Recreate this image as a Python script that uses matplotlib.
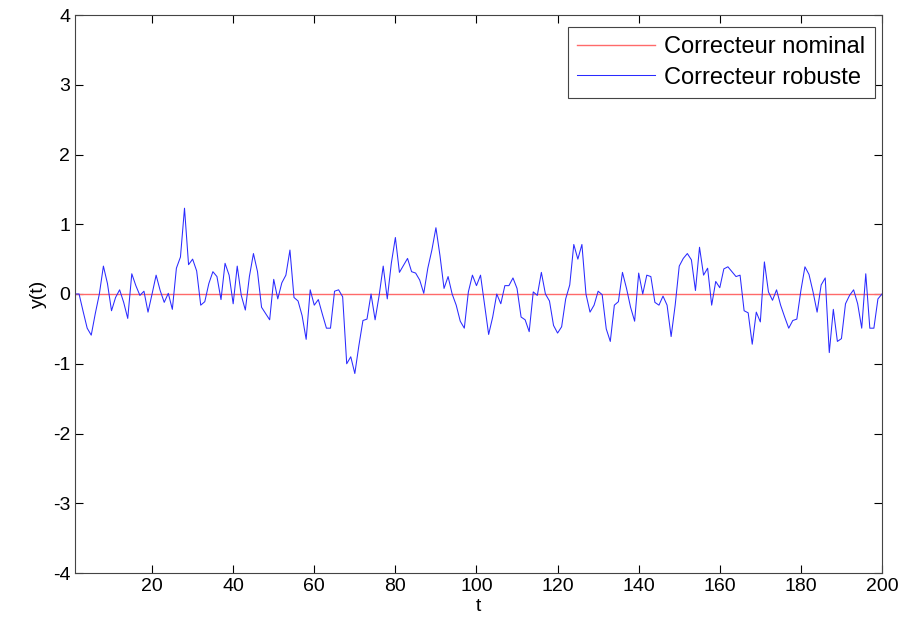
import numpy as np
import matplotlib
matplotlib.use('Agg')
import matplotlib.pyplot as plt

# values, t = 1..200
y_robuste = [
    0.00, 0.00, -0.25, -0.49, -0.59, -0.28, 0.00, 0.40, 0.15, -0.24,
    -0.05, 0.06, -0.12, -0.35, 0.29, 0.12, -0.02, 0.04, -0.26, 0.00,
    0.27, 0.05, -0.12, 0.01, -0.22, 0.37, 0.53, 1.23, 0.42, 0.50,
    0.33, -0.16, -0.11, 0.15, 0.32, 0.25, -0.08, 0.44, 0.27, -0.14,
    0.40, -0.02, -0.23, 0.25, 0.58, 0.32, -0.19, -0.28, -0.37, 0.21,
    -0.07, 0.16, 0.27, 0.63, -0.05, -0.10, -0.31, -0.65, 0.06, -0.16,
    -0.08, -0.29, -0.49, -0.49, 0.04, 0.06, -0.04, -1.00, -0.90, -1.14,
    -0.74, -0.38, -0.36, 0.00, -0.37, -0.02, 0.40, -0.07, 0.44, 0.81,
    0.31, 0.41, 0.51, 0.32, 0.30, 0.20, 0.01, 0.37, 0.63, 0.95,
    0.55, 0.08, 0.25, 0.00, -0.16, -0.39, -0.49, 0.03, 0.27, 0.12,
    0.27, -0.16, -0.58, -0.33, 0.00, -0.14, 0.12, 0.12, 0.23, 0.08,
    -0.33, -0.37, -0.54, 0.03, -0.02, 0.31, 0.00, -0.10, -0.45, -0.56,
    -0.47, -0.07, 0.13, 0.71, 0.50, 0.71, 0.00, -0.26, -0.16, 0.04,
    -0.01, -0.50, -0.68, -0.16, -0.11, 0.31, 0.08, -0.19, -0.39, 0.30,
    0.00, 0.27, 0.25, -0.12, -0.16, -0.03, -0.16, -0.61, -0.16, 0.40,
    0.51, 0.58, 0.49, 0.05, 0.67, 0.27, 0.37, -0.16, 0.18, 0.09,
    0.36, 0.39, 0.32, 0.25, 0.27, -0.24, -0.27, -0.72, -0.26, -0.40,
    0.46, 0.03, -0.09, 0.06, -0.16, -0.33, -0.49, -0.38, -0.36, 0.05,
    0.39, 0.28, 0.03, -0.26, 0.13, 0.23, -0.84, -0.22, -0.68, -0.64,
    -0.14, -0.02, 0.06, -0.14, -0.49, 0.29, -0.49, -0.49, -0.07, 0.00,
]
t = np.arange(1, len(y_robuste) + 1)
y_nominal = np.zeros(len(t))

x_ticks = [20, 40, 60, 80, 100, 120, 140, 160, 180, 200]
y_ticks = [-4, -3, -2, -1, 0, 1, 2, 3, 4]

plt.rcParams['font.family'] = ['Liberation Sans', 'DejaVu Sans']
plt.rcParams['axes.unicode_minus'] = False

fig = plt.figure(figsize=(9.06, 6.25), dpi=100)
ax = fig.add_axes([0.0828, 0.0832, 0.8907, 0.8928])

ax.plot(t, y_nominal, color='#ff6a6a', lw=1.0, label='Correcteur nominal')
ax.plot(t, y_robuste, color='#2a2aff', lw=0.75, label='Correcteur robuste')

ax.set_xlim(1, 200)
ax.set_ylim(-4, 4)
ax.set_xticks(x_ticks)
ax.set_yticks(y_ticks)
ax.tick_params(direction='in', length=6, width=0.8, top=True, right=True,
               labelsize=14, colors='black')
for sp in ax.spines.values():
    sp.set_color('#444444')
    sp.set_linewidth(0.8)

ax.set_xlabel('t', fontsize=14, labelpad=2)
ax.set_ylabel('y(t)', fontsize=14, labelpad=4)

leg = ax.legend(loc='upper right', bbox_to_anchor=(0.9913, 0.9785),
                borderaxespad=0, fontsize=17, fancybox=False,
                edgecolor='#444444', framealpha=1, handlelength=3.3,
                borderpad=0.4, labelspacing=0.35, handletextpad=0.4)
leg.get_frame().set_linewidth(0.8)

fig.savefig('out.png', dpi=100)
